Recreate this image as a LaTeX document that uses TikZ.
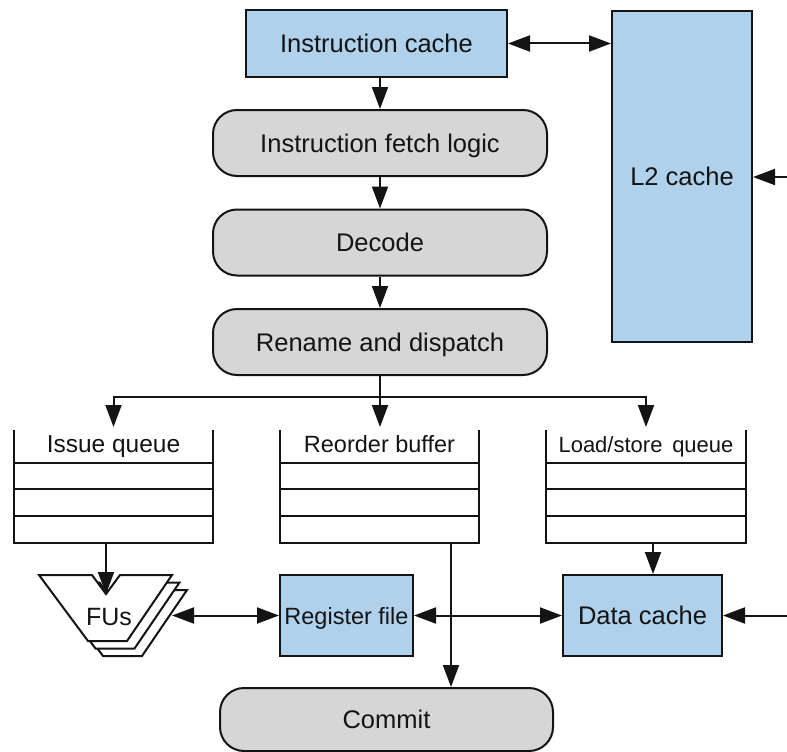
\documentclass[tikz,border=0pt]{standalone}
\usepackage{fontspec}
\setmainfont{Liberation Sans}
\usetikzlibrary{arrows.meta}
\definecolor{boxblue}{HTML}{AFD1EC}
\definecolor{boxgray}{HTML}{D6D6D6}
\definecolor{ink}{HTML}{141414}
\tikzset{
  every node/.style={text=ink},
  mainfont/.style={font=\fontsize{25.5}{30}\selectfont},
  bluebox/.style={draw=ink, line width=2pt, fill=boxblue, mainfont, text height=18.3pt, text depth=0pt, inner sep=0pt},
  stagebox/.style={draw=ink, line width=2pt, fill=boxgray, rounded corners=24pt, mainfont, text height=18.3pt, text depth=0pt, inner sep=0pt},
  qnode/.style={draw=none, inner sep=0pt, outer sep=0pt},
  qline/.style={draw=ink, line width=2pt},
  qlabel/.style={anchor=base, inner sep=0pt},
  wire/.style={draw=ink, line width=2pt},
  headtip/.tip={Triangle[length=22pt 0 0,width=16pt 0 0]},
  arr/.style={wire, -headtip},
  darr/.style={wire, headtip-headtip},
}
\newcommand{\drawqueue}[5]{% name, left, right, label, size
  \pgfmathsetmacro{\qc}{(#2+#3)/2}
  \pgfmathsetmacro{\qw}{#3-#2}
  \node[qnode, minimum width=\qw pt, minimum height=113pt] (#1) at (\qc,486.5) {};
  \draw[qline] (#1.north west) -- (#1.south west) -- (#1.south east) -- (#1.north east);
  \foreach \yy in {463,489,516} {\draw[qline] (#2,\yy) -- (#3,\yy);}
  \node[qlabel, font=\fontsize{#5}{28}\selectfont] (#1lab) at (\qc,452) {#4};
}
\begin{document}
\begin{tikzpicture}[x=1pt, y=-1pt]
\fill[white] (0,0) rectangle (787,752);
\useasboundingbox (0,0) rectangle (787,752);

% caches and stages
\node[bluebox, minimum width=261pt, minimum height=67pt] (icache) at (376.5,43.5) {Instruction cache};
\node[bluebox, minimum width=140pt, minimum height=331pt] (l2) at (682,176.5) {L2 cache};
\node[stagebox, minimum width=334pt, minimum height=66pt] (fetch) at (380,143) {Instruction fetch logic};
\node[stagebox, minimum width=334pt, minimum height=66pt] (decode) at (380,242.5) {Decode};
\node[stagebox, minimum width=334pt, minimum height=66pt] (rename) at (380,342) {Rename and dispatch};
\node[stagebox, minimum width=333pt, minimum height=63pt] (commit) at (386.5,719.5) {Commit};
\node[bluebox, minimum width=133pt, minimum height=81pt, font=\fontsize{23.5}{28}\selectfont, text height=17pt] (regfile) at (346.5,615.5) {Register file};
\node[bluebox, minimum width=159pt, minimum height=81pt] (dcache) at (642.5,615.5) {Data cache};

% queues
\drawqueue{iq}{14}{213}{Issue queue}{24.5}
\drawqueue{rob}{280}{479}{Reorder buffer}{23.5}
\drawqueue{lsq}{546}{746}{Load/store\ \,queue}{22}

% functional units
\foreach \o in {15,7.5,0} {
  \draw[qline, fill=white, shift={(\o,\o)}] (39,575) -- (92,575) -- (106,594) -- (120,575) -- (172,575) -- (127,641) -- (88,641) -- cycle;
}
\coordinate (notch) at (106,594);
\coordinate (fusr) at (172,615.5);
\node[mainfont, font=\fontsize{25}{30}\selectfont, text height=18pt, text depth=0pt, inner sep=0pt] (fus) at (109,616) {FUs};

% connectors
\draw[arr] (icache.south -| fetch.north) -- (fetch.north);
\draw[darr] (icache.east) -- (icache.east -| l2.west);
\draw[arr] (fetch) -- (decode);
\draw[arr] (decode) -- (rename);
\coordinate (split) at (380,397);
\draw[wire] (rename.south) -- (split);
\draw[arr] (split) -| ([yshift=3pt]iq.north);
\draw[arr] (split) -| ([yshift=3pt]lsq.north);
\draw[arr] (split) -- ([yshift=3pt]split |- rob.north);
\draw[arr] (notch |- iq.south) -- (notch);
\draw[arr] ([xshift=7pt]lsq.south) -- ([xshift=7pt]lsq.south |- dcache.north);
\draw[darr] (fusr) -- (regfile.west);
\draw[darr] (regfile.east) -- (dcache.west);
\draw[arr] ([xshift=71.5pt]rob.south) -- ([xshift=71.5pt]rob.south |- commit.north);
\coordinate (l2in) at (787,177);
\draw[arr] (l2in) -- (l2in -| l2.east);
\coordinate (dcin) at (787,615.5);
\draw[arr] (dcin) -- (dcin -| dcache.east);
\end{tikzpicture}
\end{document}
